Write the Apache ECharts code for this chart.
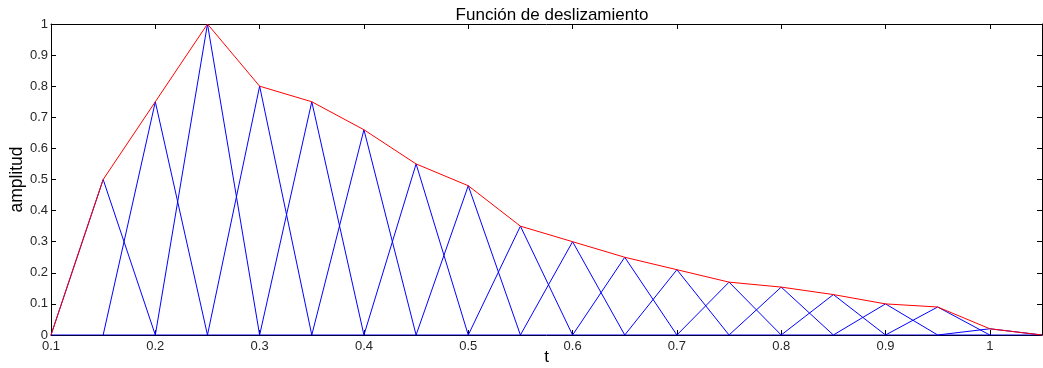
<!DOCTYPE html>
<html>
<head>
<meta charset="utf-8">
<script src="https://cdn.jsdelivr.net/npm/echarts@6/dist/echarts.min.js"></script>
<style>html,body{margin:0;padding:0;background:#fff;}#c{width:1043px;height:368px;}</style>
</head>
<body>
<div id="c"></div>
<script>
// Data
var centers = [0.15, 0.2, 0.25, 0.3, 0.35, 0.4, 0.45, 0.5, 0.55, 0.6, 0.65, 0.7, 0.75, 0.8, 0.85, 0.9, 0.95, 1.0];
var peaks   = [0.5, 0.75, 1.0, 0.8, 0.75, 0.66, 0.55, 0.48, 0.35, 0.30, 0.25, 0.21, 0.17, 0.154, 0.13, 0.10, 0.09, 0.02];
var halfWidth = 0.05;
var envStart = [0.1, 0];
var envEnd = [1.05, 0];
var titleText = 'Función de deslizamiento';
var xName = 't';
var yName = 'amplitud';

var chart = echarts.init(document.getElementById('c'));
var series = [];
// baseline
series.push({type:'line', data:[[envStart[0],0],[envEnd[0],0]], symbol:'none', lineStyle:{color:'#0000ff', width:1}, silent:true, z:2});
centers.forEach(function(c, i){
  series.push({
    type:'line',
    data:[[c-halfWidth,0],[c,peaks[i]],[c+halfWidth,0]],
    symbol:'none',
    lineStyle:{color:'#0000ff', width:1},
    z:2
  });
});
var env = [envStart].concat(centers.map(function(c,i){return [c,peaks[i]];})).concat([envEnd]);
series.push({type:'line', data:env, symbol:'none', lineStyle:{color:'#ff0000', width:1}, z:3});

var fontFam = 'Liberation Sans, Arial, sans-serif';
var lbl = {color:'#262626', fontSize:13, fontFamily:fontFam};
var tickStyle = {show:true, inside:true, length:5, lineStyle:{color:'#000', width:1}};
function fmt(v){return String(+v.toFixed(2));}
chart.setOption({
  animation:false,
  backgroundColor:'#fff',
  title:{text:titleText, left:547, top:2, textAlign:'center', textStyle:{fontSize:17, fontWeight:'normal', color:'#000', fontFamily:fontFam}},
  grid:{left:51, right:1, top:24, bottom:33, containLabel:false, outerBoundsMode:'none'},
  xAxis:[
    {type:'value', min:0.1, max:1.05, interval:0.1, position:'bottom',
     axisLine:{show:true, onZero:false, lineStyle:{color:'#000', width:1}},
     axisTick:tickStyle, splitLine:{show:false},
     axisLabel:Object.assign({margin:5, showMaxLabel:false, formatter:fmt}, lbl),
     name:xName, nameLocation:'middle', nameGap:14, nameMoveOverlap:false, nameTruncate:{maxWidth:null},
     nameTextStyle:{fontSize:17, color:'#000', fontFamily:fontFam}},
    {type:'value', min:0.1, max:1.05, interval:0.1, position:'top',
     axisLine:{show:true, onZero:false, lineStyle:{color:'#000', width:1}},
     axisTick:tickStyle, axisLabel:{show:false}, splitLine:{show:false}}
  ],
  yAxis:[
    {type:'value', min:0, max:1, interval:0.1, position:'left',
     axisLine:{show:true, onZero:false, lineStyle:{color:'#000', width:1}},
     axisTick:tickStyle, splitLine:{show:false},
     axisLabel:Object.assign({margin:3, formatter:fmt}, lbl),
     name:yName, nameLocation:'middle', nameGap:25, nameRotate:90, nameMoveOverlap:false,
     nameTextStyle:{fontSize:17.5, color:'#000', fontFamily:fontFam}},
    {type:'value', min:0, max:1, interval:0.1, position:'right',
     axisLine:{show:true, onZero:false, lineStyle:{color:'#000', width:1}},
     axisTick:tickStyle, axisLabel:{show:false}, splitLine:{show:false}}
  ],
  series:series
});
</script>
</body>
</html>
